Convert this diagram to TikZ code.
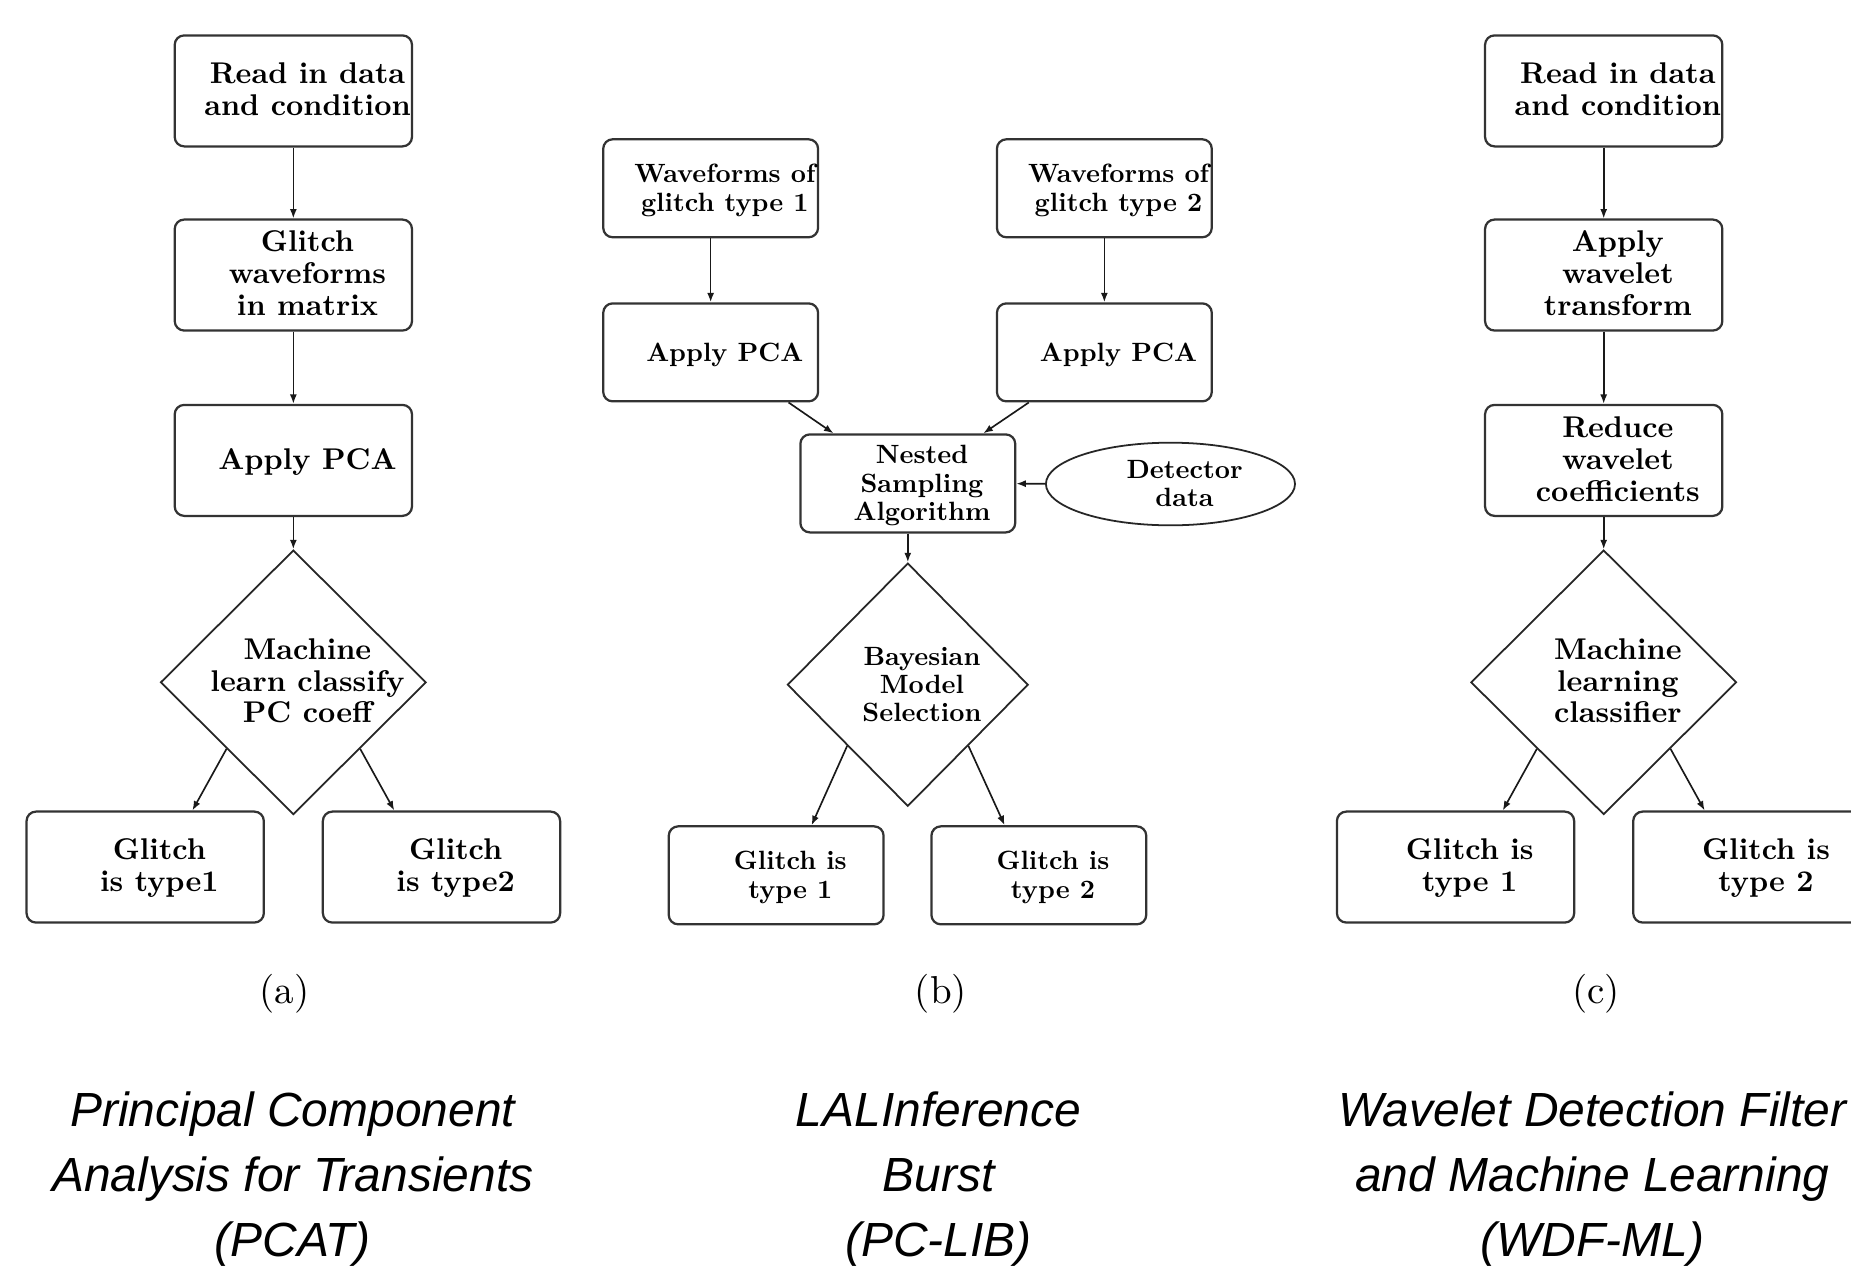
\documentclass[tikz,border=0pt]{standalone}
\usepackage{fontspec}
\newfontfamily\capfont{Liberation Sans}
\newfontfamily\boxfont{lmroman10-bold}[Extension=.otf]
\newfontfamily\tagfont{lmroman10-regular}[Extension=.otf]
\usetikzlibrary{shapes.geometric,arrows.meta}
% text of a node, set a little right of the centre as in the sketch
\newcommand{\nodetext}[1]{\makebox[0pt]{\raisebox{-4pt}[0pt][0pt]{\hspace*{12pt}\begin{tabular}{@{}c@{}}#1\end{tabular}}}}
\begin{document}
\begin{tikzpicture}[x=0.5pt, y=-0.5pt,
  rbox/.style={draw=black!80, line width=0.95pt, rounded corners=4pt, inner sep=0pt},
  bigbox/.style={rbox, minimum width=100.5pt, minimum height=47pt, font=\boxfont\fontsize{12.7}{13.5}\selectfont},
  smallbox/.style={rbox, minimum width=91pt, minimum height=41.5pt, font=\boxfont\fontsize{11.2}{12}\selectfont},
  bigdec/.style={diamond, draw=black!85, line width=0.75pt, inner sep=0pt, minimum width=112.5pt, minimum height=112pt, font=\boxfont\fontsize{12.7}{13.5}\selectfont},
  smalldec/.style={diamond, draw=black!85, line width=0.75pt, inner sep=0pt, minimum width=102pt, minimum height=103pt, font=\boxfont\fontsize{11.2}{12}\selectfont},
  datain/.style={ellipse, draw=black!85, line width=0.75pt, inner sep=0pt, minimum width=105.5pt, minimum height=35pt, font=\boxfont\fontsize{11.2}{12}\selectfont},
  flow/.style={draw=black!90, line width=0.7pt, -{Latex[length=4pt,width=3pt]}},
  tag/.style={inner sep=0pt, font=\tagfont\fontsize{16.5}{19}\selectfont},
  method/.style={inner sep=0pt, align=center, font=\capfont\itshape\fontsize{20.3}{27.5}\selectfont}]
\path[use as bounding box] (0,0) rectangle (1568,1076);
\clip (0,0) rectangle (1568,1076);
\fill[white] (0,0) rectangle (1568,1076);
% (a) PCAT
\node[bigbox] (a0) at (248.5,77){\nodetext{Read in data\\and condition}};
\node[bigbox] (a1) at (248.5,233){\nodetext{Glitch\\waveforms\\in matrix}};
\node[bigbox] (a2) at (248.5,390){\nodetext{Apply PCA}};
\node[bigdec] (a3) at (248.5,578){\nodetext{Machine\\learn classify\\PC coeff}};
\node[bigbox] (a4) at (123,734.5){\nodetext{Glitch\\is type1}};
\node[bigbox] (a5) at (374,734.5){\nodetext{Glitch\\is type2}};
\draw[flow](a0) -- (a1);
\draw[flow](a1) -- (a2);
\draw[flow](a2) -- (a3);
\draw[flow](a3.south west) -- ([xshift=20pt]a4.north);
\draw[flow](a3.south east) -- ([xshift=-20pt]a5.north);
\node[tag] (ta) at (241,842){(a)};
\node[method] (ma) at (248,999){Principal Component\\Analysis for Transients\\(PCAT)};
% (b) PC-LIB
\node[smallbox] (b0) at (602,159.5){\nodetext{Waveforms of\\glitch type 1}};
\node[smallbox] (b1) at (935.5,159.5){\nodetext{Waveforms of\\glitch type 2}};
\node[smallbox] (b2) at (602,298.5){\nodetext{Apply PCA}};
\node[smallbox] (b3) at (935.5,298.5){\nodetext{Apply PCA}};
\node[smallbox] (b4) at (769,409.5){\nodetext{Nested\\Sampling\\Algorithm}};
\node[datain] (b5) at (991.5,410){\nodetext{Detector\\data}};
\node[smalldec] (b6) at (769,580){\nodetext{Bayesian\\Model\\Selection}};
\node[smallbox] (b7) at (657.5,741.5){\nodetext{Glitch is\\type 1}};
\node[smallbox] (b8) at (880,741.5){\nodetext{Glitch is\\type 2}};
\draw[flow](b0) -- (b2);
\draw[flow](b1) -- (b3);
\draw[flow]([xshift=33pt]b2.south) -- ([xshift=-31.5pt]b4.north);
\draw[flow]([xshift=-32pt]b3.south) -- ([xshift=32pt]b4.north);
\draw[flow](b5) -- (b4);
\draw[flow](b4) -- (b6);
\draw[flow](b6.south west) -- ([xshift=15pt]b7.north);
\draw[flow](b6.south east) -- ([xshift=-14.5pt]b8.north);
\node[tag] (tb) at (797,842){(b)};
\node[method] (mb) at (795,999){LALInference\\Burst\\(PC-LIB)};
% (c) WDF-ML
\node[bigbox] (c0) at (1358.5,77){\nodetext{Read in data\\and condition}};
\node[bigbox] (c1) at (1358.5,233){\nodetext{Apply\\wavelet\\transform}};
\node[bigbox] (c2) at (1358.5,390){\nodetext{Reduce\\wavelet\\coefficients}};
\node[bigdec] (c3) at (1358.5,578){\nodetext{Machine\\learning\\classifier}};
\node[bigbox] (c4) at (1233,734.5){\nodetext{Glitch is\\type 1}};
\node[bigbox] (c5) at (1484,734.5){\nodetext{Glitch is\\type 2}};
\draw[flow](c0) -- (c1);
\draw[flow](c1) -- (c2);
\draw[flow](c2) -- (c3);
\draw[flow](c3.south west) -- ([xshift=20pt]c4.north);
\draw[flow](c3.south east) -- ([xshift=-20pt]c5.north);
\node[tag] (tc) at (1352,842){(c)};
\node[method] (mc) at (1349,999){Wavelet Detection Filter\\and Machine Learning\\(WDF-ML)};
\end{tikzpicture}
\end{document}
